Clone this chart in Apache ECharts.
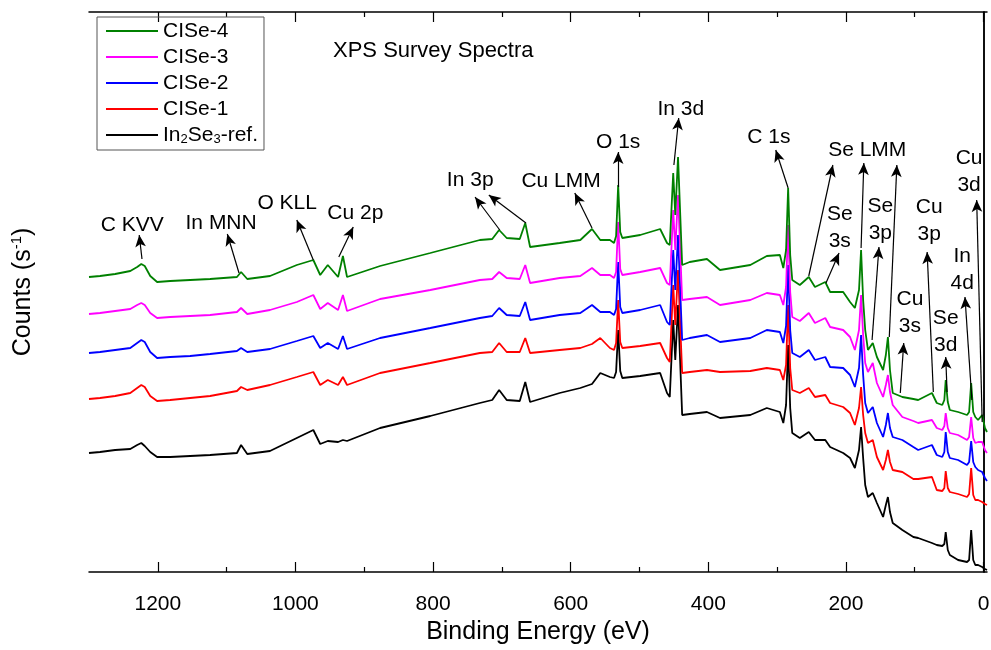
<!DOCTYPE html>
<html>
<head>
<meta charset="utf-8">
<title>XPS Survey Spectra</title>
<script src="https://cdn.jsdelivr.net/npm/echarts@6/dist/echarts.min.js"></script>
<style>
  html, body { margin: 0; padding: 0; background: #fff; }
  #chart { width: 991px; height: 650px; }
</style>
</head>
<body>
<div id="chart"></div>
<script>
// binding energy (eV), shared by all five spectra
var energy = [1300, 1284, 1262, 1240, 1230, 1224, 1219, 1211, 1201, 1182,
  1153, 1124, 1085, 1079, 1070, 1037, 998, 974, 964, 953,
  938, 931, 925, 877, 804, 732, 714, 704, 693, 674,
  666, 659, 616, 586, 569, 557, 543, 537, 534, 531,
  528, 525, 499, 470, 460, 456, 451, 448, 444, 438,
  427, 402, 383, 339, 315, 296, 291, 287, 284, 281,
  278, 267, 254, 245, 230, 223, 204, 194, 187, 181,
  178, 175, 172, 168, 161, 155, 146, 142, 139, 136,
  132, 118, 102, 95, 75, 68, 60, 57, 55, 52,
  49, 37, 24, 21, 18, 15, 12, 8, 2, -2, -5]

// counts (arbitrary units, offset spectra)
var cise4 = [295, 296, 298, 301, 305, 308, 306, 296, 290, 291,
  292, 293, 295, 300, 293, 296, 307, 312, 297, 307,
  295, 316, 295, 306, 319, 332, 333, 342, 334, 333,
  349, 325, 329, 332, 343, 332, 332, 329, 336, 387,
  340, 334, 337, 343, 329, 327, 399, 357, 415, 307,
  310, 313, 302, 307, 316, 317, 304, 322, 384, 317,
  292, 287, 295, 285, 290, 280, 280, 270, 264, 282,
  322, 272, 242, 222, 229, 215, 202, 217, 235, 202,
  179, 175, 173, 172, 179, 169, 167, 172, 192, 170,
  162, 160, 157, 160, 189, 160, 155, 152, 157, 144, 140]
var cise3 = [258, 259, 261, 263, 267, 269, 267, 259, 254, 255,
  256, 257, 260, 264, 258, 262, 270, 277, 263, 269,
  262, 277, 261, 273, 282, 292, 293, 300, 294, 293,
  307, 289, 294, 296, 304, 297, 297, 294, 300, 350,
  303, 297, 300, 304, 289, 287, 362, 322, 377, 272,
  273, 275, 267, 272, 279, 277, 267, 285, 347, 280,
  255, 251, 259, 249, 254, 245, 242, 235, 222, 242,
  277, 237, 209, 200, 209, 189, 175, 187, 197, 180,
  167, 155, 151, 149, 152, 144, 142, 146, 159, 144,
  139, 137, 132, 135, 155, 134, 129, 130, 130, 122, 119]
var cise2 = [219, 220, 222, 224, 229, 232, 230, 220, 214, 215,
  216, 218, 221, 224, 220, 223, 231, 236, 224, 229,
  223, 236, 223, 234, 244, 254, 256, 264, 257, 256,
  270, 252, 257, 259, 267, 260, 260, 257, 263, 310,
  265, 259, 262, 267, 250, 247, 322, 282, 337, 232,
  234, 237, 230, 234, 242, 240, 229, 246, 307, 242,
  219, 215, 222, 212, 215, 205, 204, 197, 185, 204,
  237, 197, 169, 159, 165, 149, 135, 147, 159, 144,
  135, 132, 125, 122, 127, 117, 115, 120, 140, 120,
  114, 112, 107, 110, 131, 110, 105, 102, 100, 94, 91]
var cise1 = [173, 174, 176, 179, 184, 187, 185, 176, 171, 172,
  174, 176, 181, 185, 182, 187, 195, 200, 187, 192,
  187, 195, 187, 199, 209, 219, 220, 229, 220, 220,
  234, 219, 222, 224, 228, 234, 224, 222, 229, 272,
  230, 224, 226, 229, 214, 210, 287, 247, 302, 199,
  200, 202, 200, 201, 204, 202, 192, 207, 267, 204,
  182, 179, 184, 175, 177, 169, 165, 159, 147, 164,
  185, 157, 139, 129, 132, 115, 102, 112, 122, 110,
  102, 100, 93, 93, 95, 82, 81, 84, 101, 84,
  80, 78, 75, 78, 104, 77, 72, 72, 70, 68, 67]
var in2se3Ref = [119, 120, 122, 123, 127, 129, 126, 120, 115, 115,
  116, 117, 119, 127, 118, 121, 134, 142, 128, 131,
  130, 132, 131, 144, 156, 169, 172, 182, 172, 171,
  190, 170, 179, 184, 188, 199, 195, 194, 200, 242,
  201, 194, 196, 199, 179, 175, 252, 212, 267, 157,
  158, 160, 154, 157, 164, 160, 149, 167, 227, 164,
  139, 134, 140, 132, 132, 125, 119, 114, 104, 122,
  145, 114, 87, 75, 79, 69, 55, 67, 75, 60,
  49, 42, 35, 34, 29, 27, 26, 28, 40, 22,
  17, 12, 10, 12, 42, 12, 7, 7, 5, 3, 2]

var majorTicks = [0, 200, 400, 600, 800, 1000, 1200]
var minorTicks = [100, 300, 500, 700, 900, 1100]

// peak labels: text position and arrow (from -> to), in eV / counts
var peakLabels = [
  { text: 'C KVV', at: [1237, 347], arrows: [[[1223, 313], [1227, 337]]] },
  { text: 'In MNN', at: [1108, 349], arrows: [[[1082, 299], [1099, 338]]] },
  { text: 'O KLL', at: [1012, 369], arrows: [[[974, 312], [998, 352]]] },
  { text: 'Cu 2p', at: [913, 359], arrows: [[[937, 315], [916, 345]]] },
  { text: 'In 3p', at: [746, 392], arrows: [[[703, 342], [739, 375]], [[665, 349], [719, 377]]] },
  { text: 'Cu LMM', at: [614, 391], arrows: [[[569, 344], [594, 379]]] },
  { text: 'O 1s', at: [531, 430], arrows: [[[531, 385], [531, 420]]] },
  { text: 'In 3d', at: [440, 463], arrows: [[[450, 407], [443, 454]]] },
  { text: 'C 1s', at: [312, 435], arrows: [[[284, 384], [302, 422]]] },
  { text: 'Se LMM', at: [169, 422], arrows: [[[254, 296], [219, 407]], [[178, 324], [174, 409]], [[137, 235], [126, 407]]] },
  { text: 'Se\n3s', at: [209, 344], arrows: [[[229, 289], [210, 319]]] },
  { text: 'Se\n3p', at: [150, 352], arrows: [[[162, 232], [152, 325]]] },
  { text: 'Cu\n3s', at: [107, 259], arrows: [[[121, 179], [116, 229]]] },
  { text: 'Cu\n3p', at: [79, 351], arrows: [[[73, 180], [82, 320]]] },
  { text: 'Se\n3d', at: [55, 240], arrows: [[[53, 180], [55, 215]]] },
  { text: 'In\n4d', at: [31, 302], arrows: [[[17, 172], [27, 275]]] },
  { text: 'Cu\n3d', at: [21, 400], arrows: [[[2, 150], [10, 372]]] }
]

var font = "'Liberation Sans', Arial, sans-serif"

function pairs (ys) {
  return energy.map(function (e, i) { return [e, ys[i]] })
}

var arrowData = []
var textData = []
peakLabels.forEach(function (p) {
  textData.push({ name: p.text, coord: p.at })
  p.arrows.forEach(function (a) {
    arrowData.push([{ coord: a[0] }, { coord: a[1] }])
  })
})

function xAxisBase (position, ticks, len, showLine) {
  return {
    type: 'value',
    position: position,
    min: -5,
    max: 1300,
    inverse: true,
    axisLine: { show: showLine, lineStyle: { color: '#000', width: 1.5 } },
    axisTick: { show: true, inside: true, length: len, customValues: ticks, lineStyle: { color: '#000', width: 1.2 } },
    axisLabel: { show: false },
    splitLine: { show: false }
  }
}

var mainX = xAxisBase('bottom', majorTicks, 10, true)
mainX.name = 'Binding Energy (eV)'
mainX.nameLocation = 'middle'
mainX.nameGap = 48
mainX.nameTextStyle = { fontFamily: font, fontSize: 25, color: '#000' }
mainX.axisLabel = {
  show: true,
  customValues: majorTicks,
  margin: 22,
  fontFamily: font,
  fontSize: 21,
  color: '#000',
  formatter: function (v) { return String(v) }
}

var chart = echarts.init(document.getElementById('chart'))

chart.setOption({
  animation: false,
  backgroundColor: '#fff',
  textStyle: { fontFamily: font, color: '#000' },
  title: {
    text: 'XPS Survey Spectra',
    left: 333,
    top: 40,
    padding: 0,
    textStyle: { fontFamily: font, fontSize: 22, fontWeight: 'normal', color: '#000' }
  },
  legend: {
    orient: 'vertical',
    left: 97,
    top: 17,
    align: 'left',
    padding: [3, 6, 4, 9],
    itemGap: 4,
    itemWidth: 52,
    itemHeight: 2,
    icon: 'rect',
    borderColor: '#555',
    borderWidth: 1,
    data: ['CISe-4', 'CISe-3', 'CISe-2', 'CISe-1', 'In2Se3-ref.'],
    formatter: function (name) {
      return name === 'In2Se3-ref.' ? 'In{s|2}Se{s|3}-ref.' : name
    },
    textStyle: {
      fontFamily: font,
      fontSize: 21,
      lineHeight: 22,
      color: '#000',
      rich: {
        s: { fontFamily: font, fontSize: 13, lineHeight: 13, verticalAlign: 'bottom', color: '#000' }
      }
    }
  },
  grid: { left: 89, right: 4, top: 12, bottom: 78, containLabel: false, outerBoundsMode: 'none' },
  xAxis: [
    mainX,
    xAxisBase('bottom', minorTicks, 5, false),
    xAxisBase('top', majorTicks, 10, true),
    xAxisBase('top', minorTicks, 5, false)
  ],
  yAxis: [
    {
      type: 'value',
      position: 'left',
      min: 0,
      max: 560,
      name: 'Counts (s{sup|-1})',
      nameLocation: 'middle',
      nameRotate: 90,
      nameGap: 52,
      nameTextStyle: {
        fontFamily: font,
        fontSize: 25,
        lineHeight: 28,
        color: '#000',
        rich: {
          sup: { fontFamily: font, fontSize: 15, lineHeight: 15, verticalAlign: 'top', color: '#000' }
        }
      },
      axisLine: { show: true, lineStyle: { color: '#000', width: 1.5 } },
      axisTick: { show: false },
      axisLabel: { show: false },
      splitLine: { show: false }
    },
    {
      type: 'value',
      position: 'right',
      min: 0,
      max: 560,
      axisLine: { show: true, lineStyle: { color: '#000', width: 1.5 } },
      axisTick: { show: false },
      axisLabel: { show: false },
      splitLine: { show: false }
    }
  ],
  series: [
    { name: 'In2Se3-ref.', color: '#000000', data: pairs(in2se3Ref) },
    { name: 'CISe-1', color: '#ff0000', data: pairs(cise1) },
    { name: 'CISe-2', color: '#0000ff', data: pairs(cise2) },
    { name: 'CISe-3', color: '#ff00ff', data: pairs(cise3) },
    { name: 'CISe-4', color: '#008000', data: pairs(cise4) }
  ].map(function (s) {
    return {
      name: s.name,
      type: 'line',
      xAxisIndex: 0,
      yAxisIndex: 0,
      data: s.data,
      showSymbol: false,
      symbol: 'none',
      lineStyle: { color: s.color, width: 1.8 },
      itemStyle: { color: s.color }
    }
  }).concat([{
    name: 'labels',
    type: 'line',
    xAxisIndex: 0,
    yAxisIndex: 0,
    data: [],
    silent: true,
    markLine: {
      silent: true,
      symbol: ['none', 'arrow'],
      symbolSize: [8, 12],
      label: { show: false },
      lineStyle: { color: '#000', width: 1.2, type: 'solid' },
      itemStyle: { color: '#000' },
      data: arrowData
    },
    markPoint: {
      silent: true,
      symbol: 'circle',
      symbolSize: 1,
      itemStyle: { color: 'rgba(0,0,0,0)' },
      label: {
        show: true,
        position: 'inside',
        formatter: function (p) { return p.name },
        fontFamily: font,
        fontSize: 21,
        lineHeight: 27,
        color: '#000',
        align: 'center',
        verticalAlign: 'middle'
      },
      data: textData
    }
  }])
})
</script>
</body>
</html>
